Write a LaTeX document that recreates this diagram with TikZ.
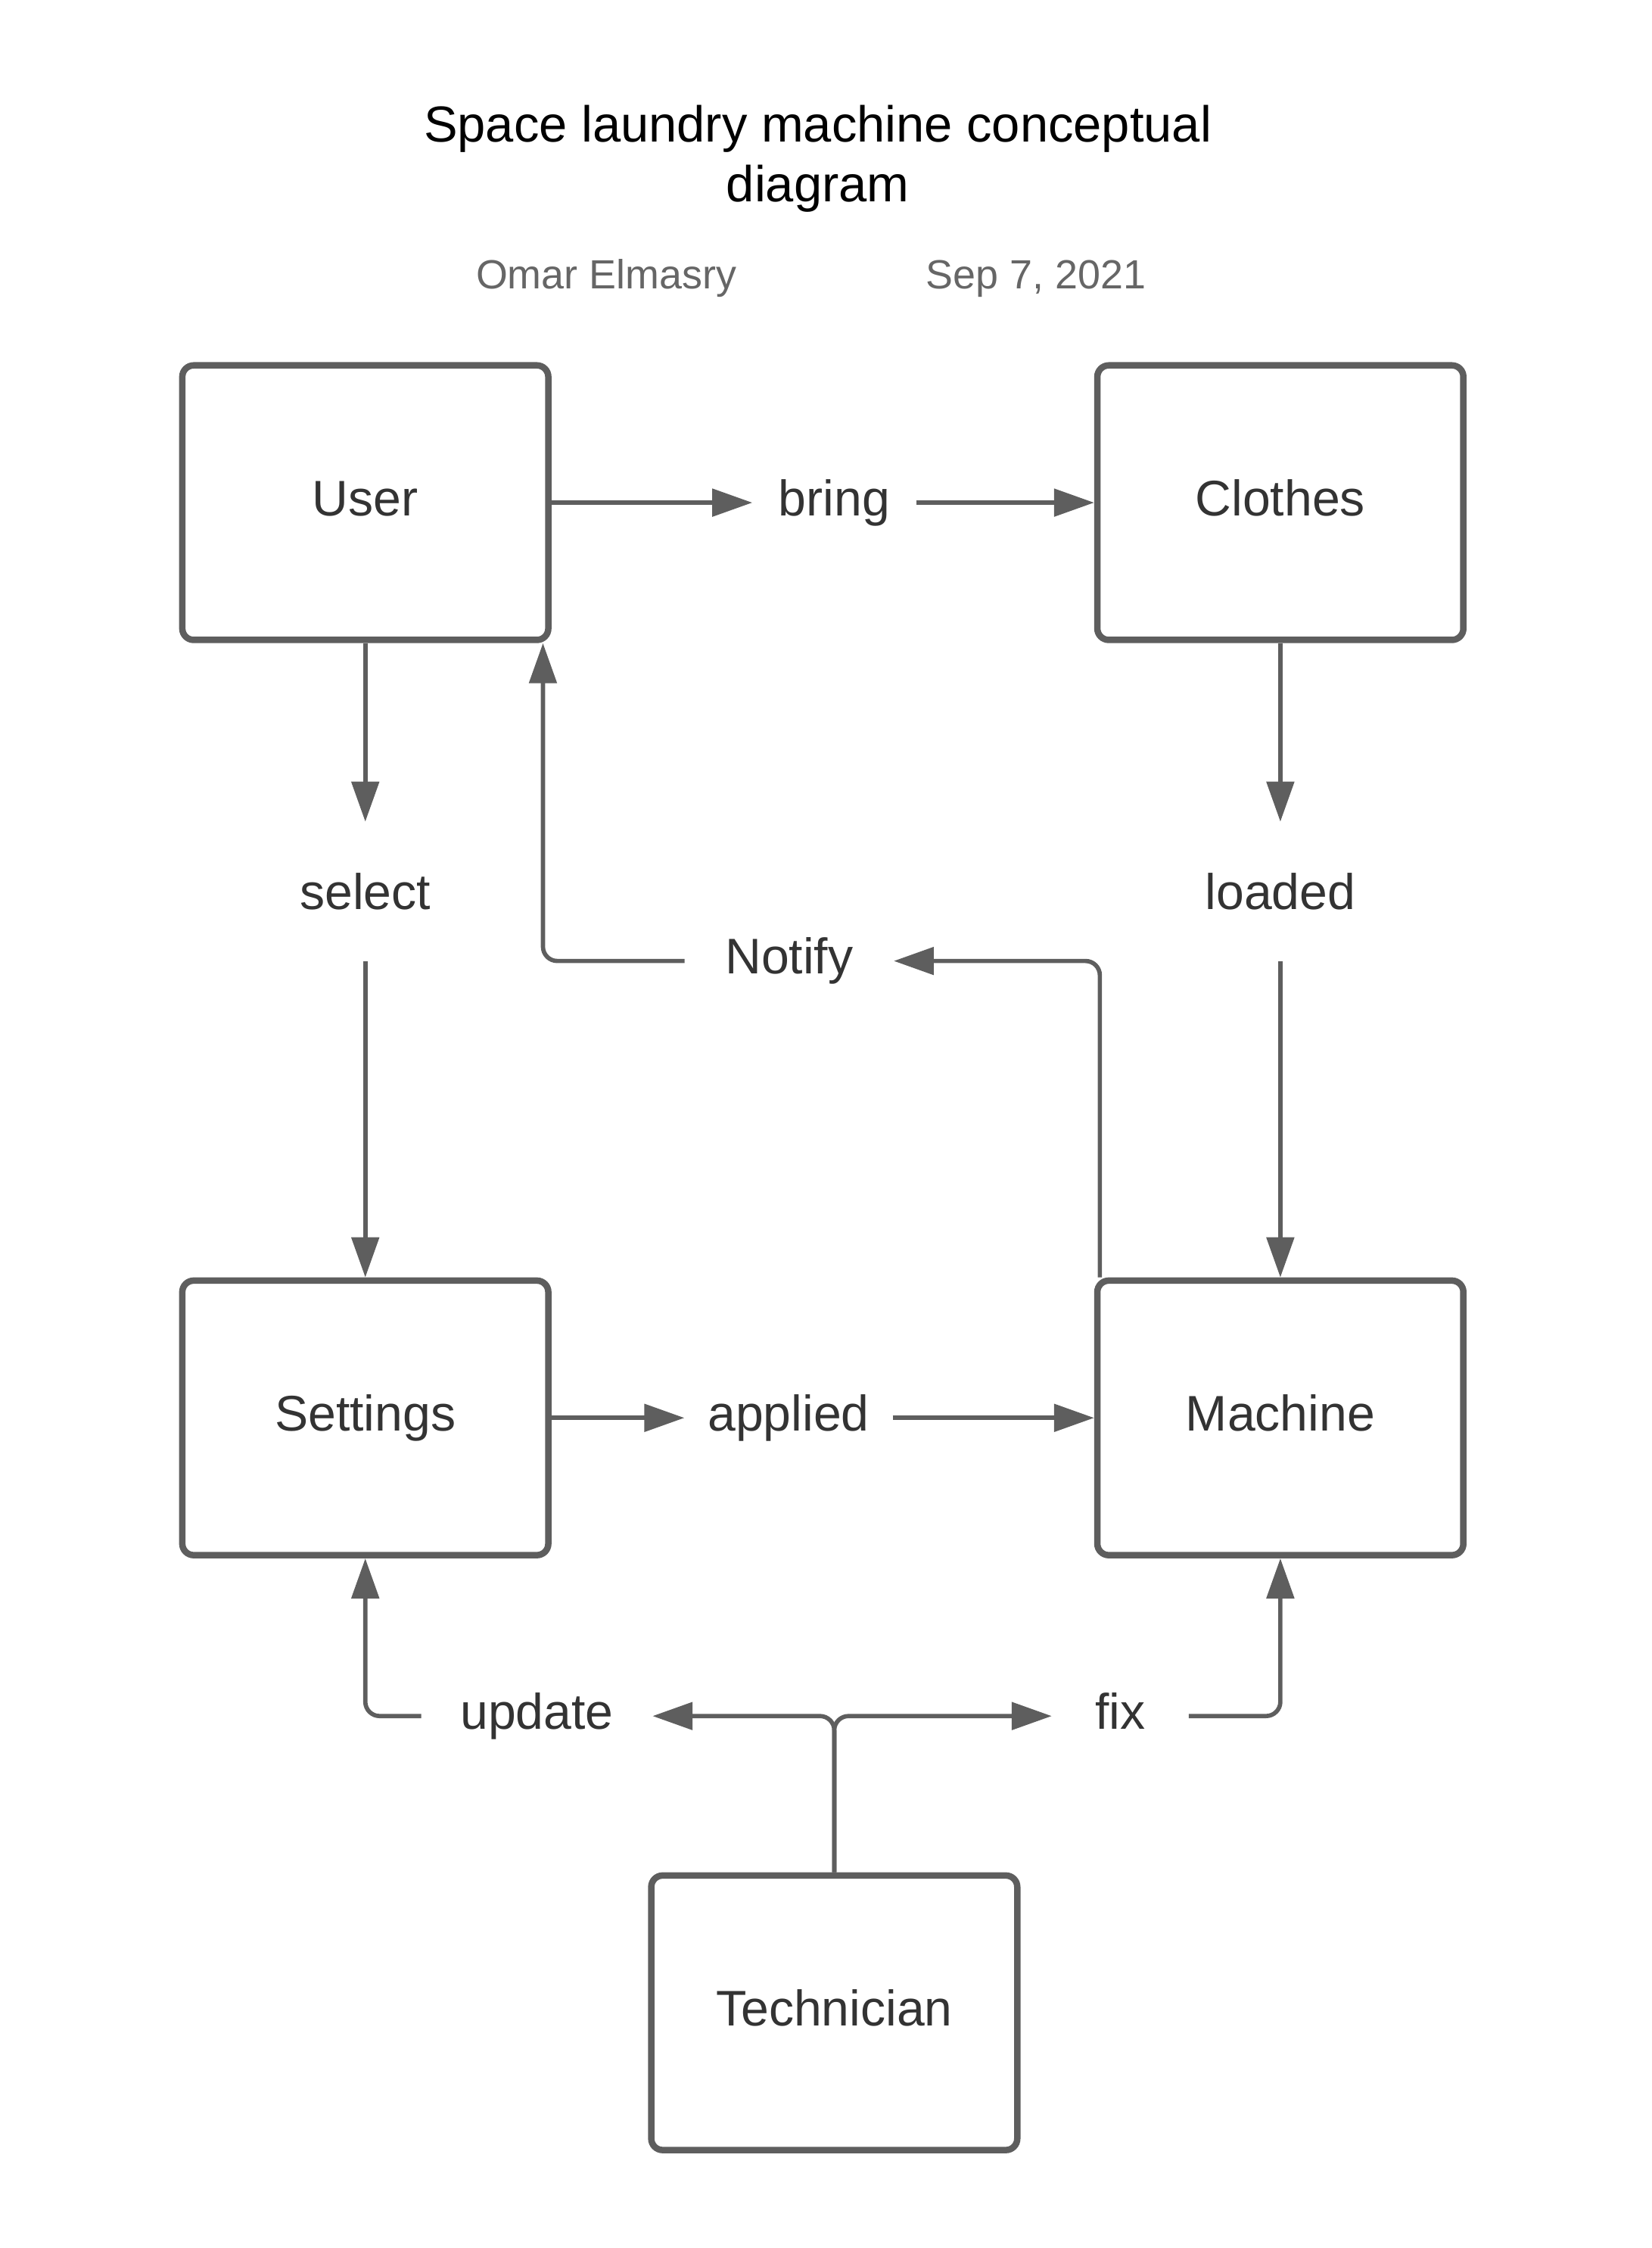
\documentclass[tikz,border=0pt]{standalone}
\usepackage{fontspec}
\setmainfont{Liberation Sans}
\usetikzlibrary{positioning,arrows.meta}

\definecolor{edge}{HTML}{5E5E5E}
\definecolor{txt}{HTML}{333333}
\definecolor{meta}{HTML}{666666}

\tikzset{
  box/.style={draw=edge, line width=2.25pt, rounded corners=4pt, minimum width=128pt, minimum height=96pt, text=txt, text height=13.1pt, text depth=4pt},
  lbl/.style={text=txt, inner xsep=9pt, inner ysep=0pt, text height=13.1pt, text depth=4pt},
  vlbl/.style={lbl, text height=30.5pt, text depth=18pt},
  conn/.style={draw=edge, line width=1.5pt, -{Triangle[length=14pt,width=9.5pt]}},
}

\begin{document}
\begin{tikzpicture}[x=0.5pt,y=-0.5pt]
\useasboundingbox (0,0) rectangle (1155,1572);

% heading
\node [font=\fontsize{17.7}{21}\selectfont, align=center, inner sep=0pt] (title) at (572,111) {Space laundry machine conceptual\\diagram};
\node [font=\fontsize{14.25}{17}\selectfont, text=meta, anchor=base] (author) at (424,202) {Omar Elmasry};
\node [font=\fontsize{14.25}{17}\selectfont, text=meta, anchor=base] (date) at (724.5,202) {Sep 7, 2021};

\fontsize{17.5}{21}\selectfont
\node [box] (user) at (255.5,351.5) {User};
\node [box, right=189.75pt of user] (clothes) {Clothes};
\node [box, below=221.75pt of user] (settings) {Settings};
\node [box, below=221.75pt of clothes] (machine) {Machine};
\node [box] (tech) at (583.5,1407.5) {Technician};

\node [lbl] (bring) at (583.5,351.5) {bring};
\node [vlbl] (select) at (255.5,623.5) {select};
\node [vlbl] (loaded) at (895.5,623.5) {loaded};
\node [lbl, inner xsep=14pt] (notify) at (552,672) {Notify};
\node [lbl, inner xsep=8pt] (applied) at (551.5,991.5) {applied};
\node [lbl, inner xsep=13.5pt] (update) at (375.5,1200) {update};
\node [lbl, inner xsep=15pt] (fix) at (783.5,1200) {fix};

\draw [conn] (user.east) -- (bring.west);
\draw [conn] (bring.east) -- (clothes.west);
\draw [conn] (user.south) -- (select.north);
\draw [conn] (select.south) -- (settings.north);
\draw [conn] (clothes.south) -- (loaded.north);
\draw [conn] (loaded.south) -- (machine.north);
\draw [conn] (settings.east) -- (applied.west);
\draw [conn] (applied.east) -- (machine.west);

% machine back to user
\draw [conn, rounded corners=5pt] ([xshift=2pt]machine.north west) |- (notify.east);
\draw [conn, rounded corners=5pt] (notify.west) -| ([xshift=-3pt]user.south east);

% technician split
\draw [conn, rounded corners=5pt] (tech.north) |- (update.east);
\draw [conn, rounded corners=5pt] (tech.north) |- (fix.west);
\draw [conn, rounded corners=5pt] (update.west) -| (settings.south);
\draw [conn, rounded corners=5pt] (fix.east) -| (machine.south);

\end{tikzpicture}
\end{document}
